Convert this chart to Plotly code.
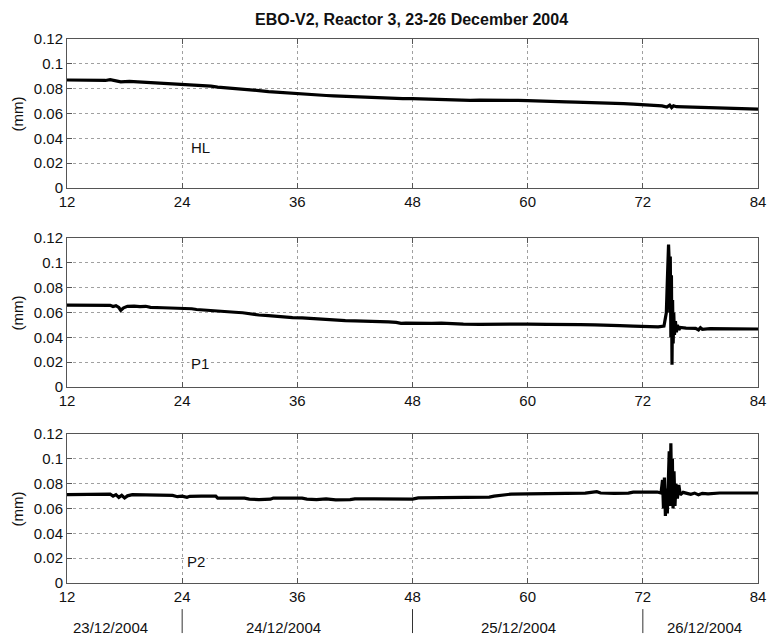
import plotly.graph_objects as go

# ---------------- data ----------------
hl_t = [12, 13, 14, 15, 16, 16.5, 17, 17.6, 18.5, 20, 21, 22, 23, 24, 25, 26, 27, 27.7, 29, 30,
        31.1, 32, 33, 34, 35, 36, 37, 38, 39, 39.8, 41, 42, 43, 44, 45, 46, 47, 48, 49, 50,
        51, 52, 53, 54, 55, 56, 57, 58, 59, 60, 61, 62, 63, 64, 65, 66, 67, 68, 69, 70,
        71, 72, 73, 74, 74.5, 74.8, 75.0, 75.2, 75.5, 76, 77, 78, 79, 80, 81, 82, 83, 84]
hl_v = [0.0870, 0.0869, 0.0868, 0.0866, 0.0866, 0.0873, 0.0862, 0.0855, 0.0858, 0.0852,
        0.0850, 0.0846, 0.0842, 0.0836, 0.0832, 0.0826, 0.0820, 0.0813, 0.0806, 0.0798,
        0.0790, 0.0784, 0.0776, 0.0770, 0.0764, 0.0760, 0.0755, 0.0750, 0.0745, 0.0742,
        0.0738, 0.0733, 0.0730, 0.0728, 0.0725, 0.0722, 0.0719, 0.0720, 0.0717, 0.0716,
        0.0713, 0.0711, 0.0708, 0.0705, 0.0707, 0.0705, 0.0706, 0.0703, 0.0705, 0.0704,
        0.0700, 0.0697, 0.0694, 0.0693, 0.0691, 0.0690, 0.0688, 0.0687, 0.0685, 0.0680,
        0.0676, 0.0672, 0.0666, 0.0661, 0.0652, 0.0668, 0.0648, 0.0662, 0.0655, 0.0654,
        0.0652, 0.0649, 0.0647, 0.0645, 0.0643, 0.0640, 0.0638, 0.0636]

p1_t = [12, 13, 14, 15, 16, 16.5, 16.8, 17.1, 17.4, 17.6, 17.9, 18.3, 19, 19.6, 20.2, 20.7,
        22, 23, 24, 25, 25.5, 26, 27, 28, 28.7, 29.5, 30.3, 30.8, 32, 33, 33.9, 34.5, 35.5,
        36.5, 37.4, 38, 39, 39.8, 41, 42, 43, 43.7, 44.5, 45.5, 46.3, 46.8, 47.3, 48, 49,
        50, 51, 52, 53, 53.3, 55, 57, 59, 60, 62, 64, 65.5, 67, 68.5, 69.6, 71, 72, 73,
        73.6, 74.2, 74.35, 74.45, 74.55, 74.62, 74.68, 74.74, 74.8, 74.86, 74.92, 74.98,
        75.04, 75.1, 75.16, 75.22, 75.3, 75.4, 75.5, 75.6, 75.75, 75.9, 76.5, 77.5, 77.8,
        78, 78.2, 79, 81, 84]
p1_v = [0.0660, 0.0660, 0.0660, 0.0660, 0.0660, 0.0658, 0.0648, 0.0655, 0.0640, 0.0618,
        0.0638, 0.0650, 0.0652, 0.0647, 0.0650, 0.0642, 0.0638, 0.0636, 0.0635, 0.0630,
        0.0624, 0.0622, 0.0618, 0.0614, 0.0606, 0.0602, 0.0598, 0.0592, 0.0580, 0.0575,
        0.0568, 0.0560, 0.0558, 0.0556, 0.0552, 0.0544, 0.0540, 0.0537, 0.0534, 0.0533,
        0.0532, 0.0528, 0.0527, 0.0525, 0.0520, 0.0512, 0.0515, 0.0513, 0.0510, 0.0512,
        0.0514, 0.0510, 0.0512, 0.0506, 0.0505, 0.0507, 0.0505, 0.0507, 0.0505, 0.0506,
        0.0503, 0.0500, 0.0499, 0.0494, 0.0490, 0.0488, 0.0487, 0.0484, 0.0490, 0.0560,
        0.0600, 0.0850, 0.1080, 0.1147, 0.1020, 0.0600, 0.1050, 0.0400, 0.0900, 0.0180,
        0.0700, 0.0350, 0.0600, 0.0420, 0.0530, 0.0440, 0.0500, 0.0460, 0.0480, 0.0474,
        0.0472, 0.0460, 0.0478, 0.0465, 0.0470, 0.0468, 0.0467]

p2_t = [12, 13, 14, 15, 16, 16.5, 16.8, 17.1, 17.4, 17.7, 18.0, 18.3, 18.8, 20, 21, 22, 23,
        23.5, 24, 24.5, 24.8, 26, 27.5, 27.7, 29, 30.5, 31, 32, 33.2, 33.5, 35, 36.5, 37,
        38, 39, 40, 41.5, 42, 44, 46, 48, 48.6, 50, 52, 54, 56, 56.5, 57.3, 57.8, 58.3, 60,
        62, 64, 66, 67.2, 67.6, 69, 70.5, 71, 72, 73.5, 73.9, 74.05, 74.15, 74.25, 74.35,
        74.45, 74.55, 74.65, 74.75, 74.85, 74.92, 75.0, 75.08, 75.15, 75.25, 75.35, 75.45,
        75.6, 75.75, 75.9, 76.2, 76.6, 77, 77.4, 77.8, 78.2, 78.8, 80, 82, 84]
p2_v = [0.0712, 0.0712, 0.0711, 0.0712, 0.0712, 0.0715, 0.0700, 0.0712, 0.0690, 0.0706,
        0.0685, 0.0702, 0.0712, 0.0711, 0.0709, 0.0708, 0.0706, 0.0695, 0.0700, 0.0690,
        0.0698, 0.0700, 0.0699, 0.0683, 0.0682, 0.0684, 0.0676, 0.0672, 0.0675, 0.0684,
        0.0683, 0.0683, 0.0676, 0.0672, 0.0677, 0.0670, 0.0672, 0.0678, 0.0677, 0.0678,
        0.0676, 0.0686, 0.0688, 0.0688, 0.0690, 0.0692, 0.0700, 0.0706, 0.0713, 0.0716,
        0.0718, 0.0720, 0.0721, 0.0724, 0.0735, 0.0725, 0.0722, 0.0724, 0.0732, 0.0734,
        0.0733, 0.0725, 0.0830, 0.0600, 0.0850, 0.0540, 0.0760, 0.0560, 0.0950, 0.1060,
        0.0620, 0.1125, 0.0700, 0.1000, 0.0600, 0.0900, 0.0620, 0.0800, 0.0680, 0.0790,
        0.0710, 0.0730, 0.0722, 0.0714, 0.0724, 0.0710, 0.0722, 0.0718, 0.0725, 0.0725,
        0.0725]

panel_labels = ["HL", "P1", "P2"]
label_x = [25.9, 25.9, 25.4]
label_y = [0.033, 0.019, 0.017]

x_ticks = [12, 24, 36, 48, 60, 72, 84]
y_ticks = [0, 0.02, 0.04, 0.06, 0.08, 0.1, 0.12]

day_labels = ["23/12/2004", "24/12/2004", "25/12/2004", "26/12/2004"]
day_label_x = [16.5, 34.6, 59.0, 78.4]
day_bounds = [24, 48, 72]

title = "EBO-V2, Reactor 3, 23-26 December 2004"
y_title = "(mm)"

# ---------------- figure ----------------
FONT = "Arial, Liberation Sans, Helvetica, sans-serif"
series = [(hl_t, hl_v), (p1_t, p1_v), (p2_t, p2_v)]
domains = [[0.7261, 1.0], [0.3603, 0.6342], [0.0, 0.2739]]

fig = go.Figure()
for i, (t, v) in enumerate(series):
    sfx = "" if i == 0 else str(i + 1)
    fig.add_trace(go.Scatter(x=t, y=v, mode="lines", xaxis="x" + sfx, yaxis="y" + sfx,
                             line=dict(color="black", width=3.2), showlegend=False,
                             hoverinfo="skip"))

layout = dict(
    width=767, height=637,
    margin=dict(l=67, r=9, t=39, b=54),
    paper_bgcolor="white", plot_bgcolor="white",
    font=dict(family=FONT, size=15, color="#111"),
    showlegend=False,
)
axis_common = dict(showline=True, linecolor="#555", linewidth=1, mirror="ticks",
                   ticks="inside", ticklen=5, tickcolor="#555", showgrid=True,
                   gridcolor="#a0a0a0", griddash="dot", gridwidth=1, zeroline=False,
                   automargin=False, ticklabeloverflow="allow",
                   tickfont=dict(family=FONT, size=15, color="#111"))
for i in range(3):
    sfx = "" if i == 0 else str(i + 1)
    layout["xaxis" + sfx] = dict(axis_common, range=[12, 84], tickvals=x_ticks,
                                 anchor="y" + sfx, domain=[0, 1])
    layout["yaxis" + sfx] = dict(axis_common, range=[0, 0.12], tickvals=y_ticks,
                                 anchor="x" + sfx, domain=domains[i])
fig.update_layout(**layout)

ann = []
ann.append(dict(text="<b>" + title + "</b>", xref="paper", yref="paper", x=0.499, y=1.035,
                showarrow=False, font=dict(family=FONT, size=16, color="#111"),
                xanchor="center", yanchor="middle"))
for i in range(3):
    sfx = "" if i == 0 else str(i + 1)
    ann.append(dict(text=panel_labels[i], xref="x" + sfx, yref="y" + sfx,
                    x=label_x[i], y=label_y[i], showarrow=False,
                    font=dict(family=FONT, size=15, color="#111"),
                    bgcolor="white" if i > 0 else None))
    ymid = sum(domains[i]) / 2
    ann.append(dict(text=y_title, xref="paper", yref="paper", x=-0.071, y=ymid,
                    textangle=-90, showarrow=False, xanchor="center", yanchor="middle",
                    font=dict(family=FONT, size=15, color="#111")))
for lbl, x in zip(day_labels, day_label_x):
    ann.append(dict(text=lbl, xref="x3", yref="paper", x=x, y=-0.0827,
                    showarrow=False, xanchor="center", yanchor="middle",
                    font=dict(family=FONT, size=15, color="#111")))
fig.update_layout(annotations=ann)

shapes = []
for b in day_bounds:
    shapes.append(dict(type="line", xref="x3", yref="paper", x0=b, x1=b,
                       y0=-0.048, y1=-0.092, line=dict(color="#333", width=1)))
fig.update_layout(shapes=shapes)

# remove the default 8px page margin so the figure fills the 767x637 window exactly
fig.write_html("out.html",
               config={"displayModeBar": False, "staticPlot": True},
               post_script="document.body.style.margin='0';"
                           "document.body.style.overflow='hidden';")
